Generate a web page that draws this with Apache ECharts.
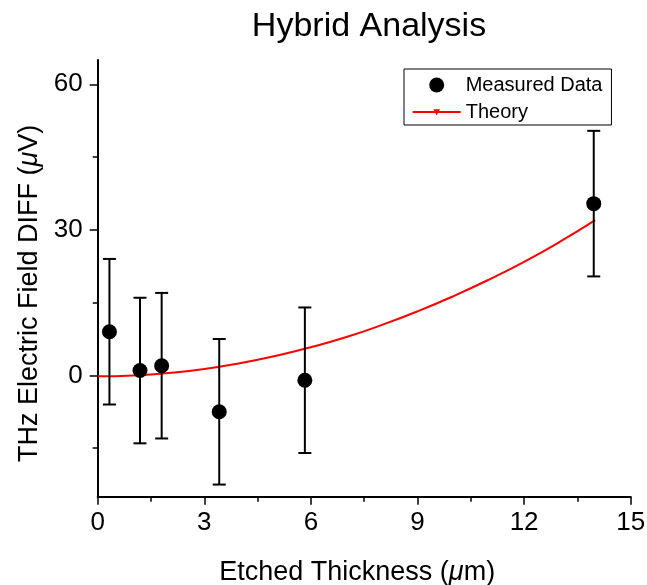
<!DOCTYPE html>
<html>
<head>
<meta charset="utf-8">
<script src="https://cdn.jsdelivr.net/npm/echarts@6/dist/echarts.min.js"></script>
<style>
html,body{margin:0;padding:0;background:#fff;}
#chart{width:647px;height:585px;}
</style>
</head>
<body>
<div id="chart"></div>
<script>
// Measured data (Etched thickness in µm, THz field diff in µV, ± error)
var measX   = [0.33, 1.19, 1.80, 3.42, 5.83, 13.96];
var measY   = [9.0, 1.0, 2.0, -7.5, -1.0, 35.4];
var measErr = [15, 15, 15, 15, 15, 15];

// Theory curve
var theoryX = [0, 1, 2, 3, 4, 5, 6, 7, 8, 9, 10, 11, 12, 13, 14];
var theoryY = [-0.2, 0.0, 0.5, 1.3, 2.5, 4.0, 5.8, 7.9, 10.4, 13.2, 16.3, 19.7, 23.4, 27.5, 32.0];

// Axis ticks
var yMajorTicks = [0, 30, 60];
var yMinorTicks = [-15, 15, 45];

var FONT = "'Liberation Sans', Arial, sans-serif";

var scatterData = measX.map(function (x, i) { return [x, measY[i]]; });
var errData = measX.map(function (x, i) { return [x, measY[i] - measErr[i], measY[i] + measErr[i]]; });
var theoryData = theoryX.map(function (x, i) { return [x, theoryY[i]]; });

var chart = echarts.init(document.getElementById('chart'), null, {renderer: 'canvas'});

var option = {
  animation: false,
  backgroundColor: '#fff',
  title: {
    text: 'Hybrid Analysis',
    left: 364,
    top: 5,
    textAlign: 'center',
    textStyle: {fontFamily: FONT, fontSize: 34, fontWeight: 'normal', color: '#000'}
  },
  legend: {
    orient: 'vertical',
    left: 404,
    top: 69,
    padding: [6, 9, 3, 7.7],
    itemGap: 7,
    itemWidth: 48,
    itemHeight: 15,
    borderColor: '#000',
    borderWidth: 1,
    textStyle: {fontFamily: FONT, fontSize: 20, color: '#000'},
    data: [
      {name: 'Measured Data', icon: 'circle'},
      {name: 'Theory'}
    ]
  },
  grid: {left: 97.7, right: 16.3, top: 60, bottom: 88.3, containLabel: false, outerBoundsMode: 'none'},
  xAxis: {
    type: 'value',
    min: 0, max: 15, interval: 3,
    name: 'Etched Thickness ({i|μ}m)',
    nameLocation: 'middle',
    nameGap: 62,
    nameTextStyle: {fontFamily: FONT, fontSize: 27, color: '#000', padding: [0, 14, 0, 0],
      rich: {i: {fontFamily: FONT, fontSize: 27, fontStyle: 'italic', color: '#000'}}},
    axisLine: {onZero: false, lineStyle: {color: '#000', width: 2}},
    axisTick: {inside: false, length: 8, lineStyle: {color: '#000', width: 1.5}},
    minorTick: {show: true, splitNumber: 2, length: 5, lineStyle: {color: '#000', width: 1.5}},
    axisLabel: {fontFamily: FONT, fontSize: 26, color: '#000', margin: 13},
    splitLine: {show: false}
  },
  yAxis: [{
    type: 'value',
    min: -25, max: 65,
    position: 'left',
    name: 'THz Electric Field DIFF ({i|μ}V)',
    nameLocation: 'middle',
    nameGap: 55,
    nameRotate: 90,
    nameTextStyle: {fontFamily: FONT, fontSize: 27, color: '#000', padding: [0, 30, 0, 0],
      rich: {i: {fontFamily: FONT, fontSize: 27, fontStyle: 'italic', color: '#000'}}},
    axisLine: {show: true, onZero: false, lineStyle: {color: '#000', width: 2}},
    axisTick: {show: true, inside: false, length: 8, customValues: yMajorTicks, lineStyle: {color: '#000', width: 1.5}},
    axisLabel: {fontFamily: FONT, fontSize: 26, color: '#000', margin: 15, customValues: yMajorTicks},
    splitLine: {show: false}
  }, {
    type: 'value',
    min: -25, max: 65,
    position: 'left',
    offset: 0,
    axisLine: {show: false, onZero: false},
    axisTick: {show: true, inside: false, length: 5, customValues: yMinorTicks, lineStyle: {color: '#000', width: 1.5}},
    axisLabel: {show: false},
    splitLine: {show: false}
  }],
  series: [
    {
      name: 'Theory',
      type: 'line',
      data: theoryData,
      smooth: true,
      showSymbol: false,
      symbol: 'path://M0,0 M100,100 M36,36 L64,36 L50,62 Z',
      itemStyle: {color: '#fff', borderColor: '#ff0000', borderWidth: 1},
      lineStyle: {color: '#ff0000', width: 2},
      z: 2
    },
    {
      name: 'errorbars',
      type: 'custom',
      data: errData,
      renderItem: function (params, api) {
        var x = api.value(0);
        var lo = api.coord([x, api.value(1)]);
        var hi = api.coord([x, api.value(2)]);
        var hw = 6.5;
        var st = {stroke: '#000', lineWidth: 2, fill: null};
        return {
          type: 'group',
          children: [
            {type: 'line', shape: {x1: lo[0], y1: lo[1], x2: hi[0], y2: hi[1]}, style: st},
            {type: 'line', shape: {x1: lo[0] - hw, y1: lo[1], x2: lo[0] + hw, y2: lo[1]}, style: st},
            {type: 'line', shape: {x1: hi[0] - hw, y1: hi[1], x2: hi[0] + hw, y2: hi[1]}, style: st}
          ]
        };
      },
      z: 3
    },
    {
      name: 'Measured Data',
      type: 'scatter',
      data: scatterData,
      symbol: 'circle',
      symbolSize: 15,
      itemStyle: {color: '#000', opacity: 1},
      z: 4
    }
  ]
};
chart.setOption(option);
</script>
</body>
</html>
